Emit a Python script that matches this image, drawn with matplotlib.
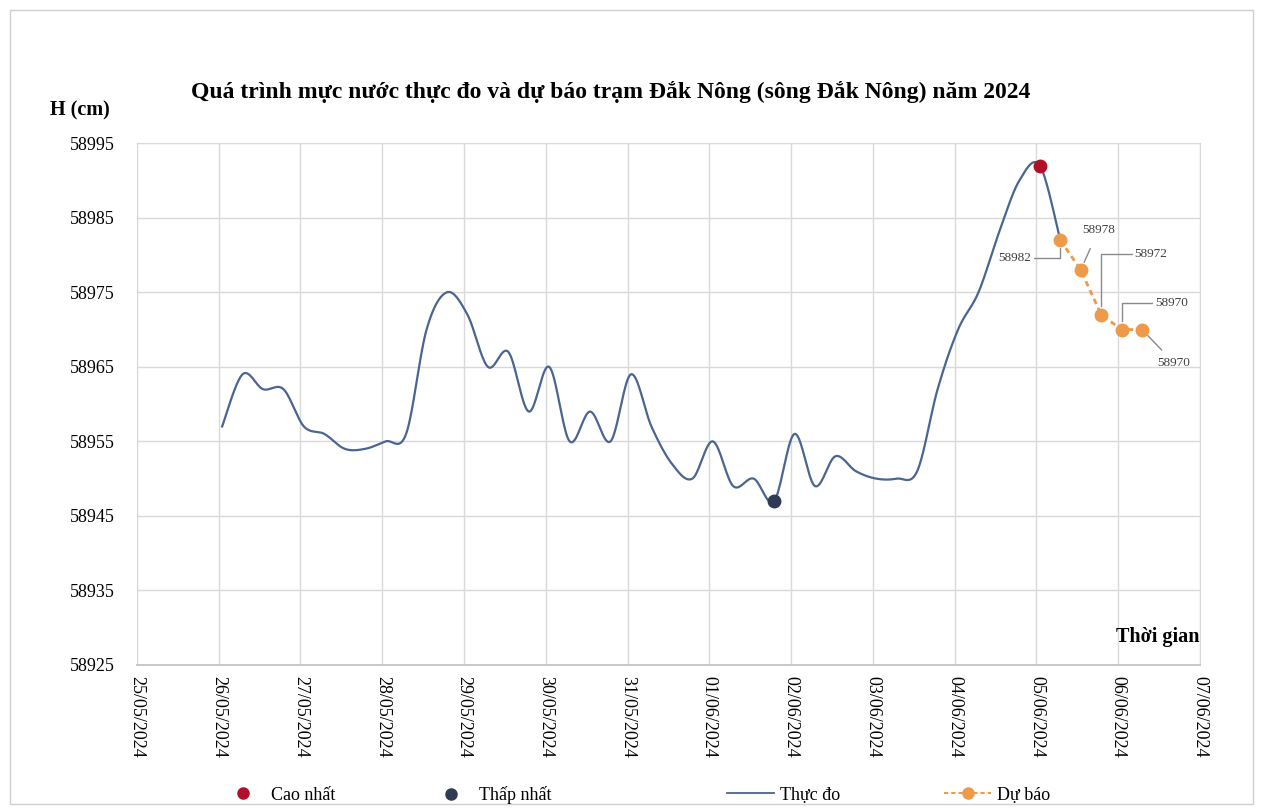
import numpy as np
import pandas as pd
import matplotlib
matplotlib.use('Agg')
import matplotlib.pyplot as plt
import matplotlib.dates as mdates
from matplotlib.lines import Line2D
from matplotlib.patches import Rectangle

# du lieu muc nuoc thuc do, 6 gio mot lan (01h, 07h, 13h, 19h)
obs_times = pd.date_range('2024-05-26 01:00', periods=42, freq='6h')
obs_h = [58957, 58964, 58962, 58962, 58957, 58956, 58954, 58954, 58955, 58956,
         58970, 58975, 58972, 58965, 58967, 58959, 58965, 58955, 58959, 58955,
         58964, 58957, 58952, 58950, 58955, 58949, 58950, 58947, 58956, 58949,
         58953, 58951, 58950, 58950, 58951, 58962, 58970, 58975, 58983, 58990,
         58992, 58982]

# du bao
fc_times = pd.to_datetime(['2024-06-05 07:00', '2024-06-05 13:00', '2024-06-05 19:00',
                           '2024-06-06 01:00', '2024-06-06 07:00'])
fc_h = [58982, 58978, 58972, 58970, 58970]

max_time = pd.Timestamp('2024-06-05 01:00')
max_h = 58992
min_time = pd.Timestamp('2024-06-01 19:00')
min_h = 58947

title = 'Quá trình mực nước thực đo và dự báo trạm Đắk Nông (sông Đắk Nông) năm 2024'

plt.rcParams['font.family'] = ['Liberation Serif', 'DejaVu Serif']


def smooth(x, y, n=20):
    # duong cong kieu Excel (bezier, he so 1/6)
    x = np.asarray(x, float)
    y = np.asarray(y, float)
    xs, ys = [], []
    t = np.linspace(0, 1, n)
    for i in range(len(x) - 1):
        x0, y0 = x[max(i - 1, 0)], y[max(i - 1, 0)]
        x3, y3 = x[min(i + 2, len(x) - 1)], y[min(i + 2, len(x) - 1)]
        c1x = x[i] + (x[i + 1] - x0) / 6
        c1y = y[i] + (y[i + 1] - y0) / 6
        c2x = x[i + 1] - (x3 - x[i]) / 6
        c2y = y[i + 1] - (y3 - y[i]) / 6
        bx = (1-t)**3*x[i] + 3*(1-t)**2*t*c1x + 3*(1-t)*t**2*c2x + t**3*x[i+1]
        by = (1-t)**3*y[i] + 3*(1-t)**2*t*c1y + 3*(1-t)*t**2*c2y + t**3*y[i+1]
        xs.extend(bx)
        ys.extend(by)
    return np.array(xs), np.array(ys)


fig = plt.figure(figsize=(12.61, 8.09), dpi=100)
ax = fig.add_axes([0.1086, 0.178, 0.843, 0.645])

fig.patches.append(Rectangle((0.008, 0.006), 0.986, 0.982, transform=fig.transFigure,
                             fill=False, edgecolor='#d0d0d0', linewidth=1))

ox, oy = smooth(mdates.date2num(obs_times), obs_h)
ax.plot(ox, oy, color='#4a6590', lw=1.6, zorder=3)

ax.plot(fc_times, fc_h, color='#ED9A4A', lw=2, ls=(0, (2, 1.5)), marker='o',
        markersize=9, markeredgecolor='#ED9A4A', zorder=4)

ax.plot(max_time, max_h, 'o', color='#b0102a', markersize=9, zorder=5)
ax.plot(min_time, min_h, 'o', color='#2f3b55', markersize=9, zorder=5)

# nhan gia tri du bao
lab = dict(fontsize=9.5, color='#404040', ha='center', va='center')
arr = dict(arrowstyle='-', color='#8a8a8a', lw=1, shrinkA=0, shrinkB=6)
ax.annotate(str(fc_h[0]), (fc_times[0], fc_h[0]), xytext=(-33, -13), textcoords='offset points',
            arrowprops=dict(arr, connectionstyle='angle,angleA=0,angleB=90'), **lab)
ax.annotate(str(fc_h[1]), (fc_times[1], fc_h[1]), xytext=(13, 29), textcoords='offset points',
            arrowprops=dict(arr, shrinkA=8), **lab)
ax.annotate(str(fc_h[2]), (fc_times[2], fc_h[2]), xytext=(36, 44), textcoords='offset points',
            arrowprops=dict(arr, connectionstyle='angle,angleA=0,angleB=90'), **lab)
ax.annotate(str(fc_h[3]), (fc_times[3], fc_h[3]), xytext=(36, 19), textcoords='offset points',
            arrowprops=dict(arr, connectionstyle='angle,angleA=0,angleB=90'), **lab)
ax.annotate(str(fc_h[4]), (fc_times[4], fc_h[4]), xytext=(23, -24), textcoords='offset points',
            arrowprops=dict(arr, shrinkA=4), **lab)

ax.set_xlim(pd.Timestamp('2024-05-25'), pd.Timestamp('2024-06-07'))
ax.set_ylim(58925, 58995)
ax.set_yticks(np.arange(58925, 58996, 10))
ax.xaxis.set_major_locator(mdates.DayLocator())
ax.xaxis.set_major_formatter(mdates.DateFormatter('%d/%m/%Y'))
ax.tick_params(axis='x', length=0, pad=8, labelsize=13, rotation=-90)
ax.tick_params(axis='y', length=0, pad=16, labelsize=13)
for t in ax.get_xticklabels():
    t.set_va('top')
ax.grid(True, color='#d9d9d9', lw=1)
ax.set_axisbelow(True)
for s in ['top', 'right', 'left']:
    ax.spines[s].set_color('#d9d9d9')
ax.spines['bottom'].set_color('#bfbfbf')
ax.spines['bottom'].set_linewidth(1.2)

fig.text(0.484, 0.886, title, ha='center', va='center', fontsize=17, fontweight='bold')
fig.text(0.04, 0.864, 'H (cm)', ha='left', va='center', fontsize=14.5, fontweight='bold')
ax.text(1.0, 0.054, 'Thời gian', transform=ax.transAxes, ha='right', va='center',
        fontsize=14.5, fontweight='bold')

handles = [
    Line2D([], [], ls='none', marker='o', color='#b0102a', markersize=8),
    Line2D([], [], ls='none', marker='o', color='#2f3b55', markersize=8),
    Line2D([], [], color='#4a6590', lw=1.3),
    Line2D([], [], color='#ED9A4A', lw=1.5, ls=(0, (2, 1.5)), marker='o', markersize=8),
]
labels = ['Cao nhất', 'Thấp nhất', 'Thực đo', 'Dự báo']
leg_x = [0.168, 0.333, 0.571, 0.743]
for h, l, x in zip(handles, labels, leg_x):
    fig.legend([h], [l], loc='center left', bbox_to_anchor=(x, 0.017), frameon=False,
               fontsize=13, handlelength=2.6, handletextpad=0.3, borderaxespad=0)

fig.savefig('out.png', dpi=100)
